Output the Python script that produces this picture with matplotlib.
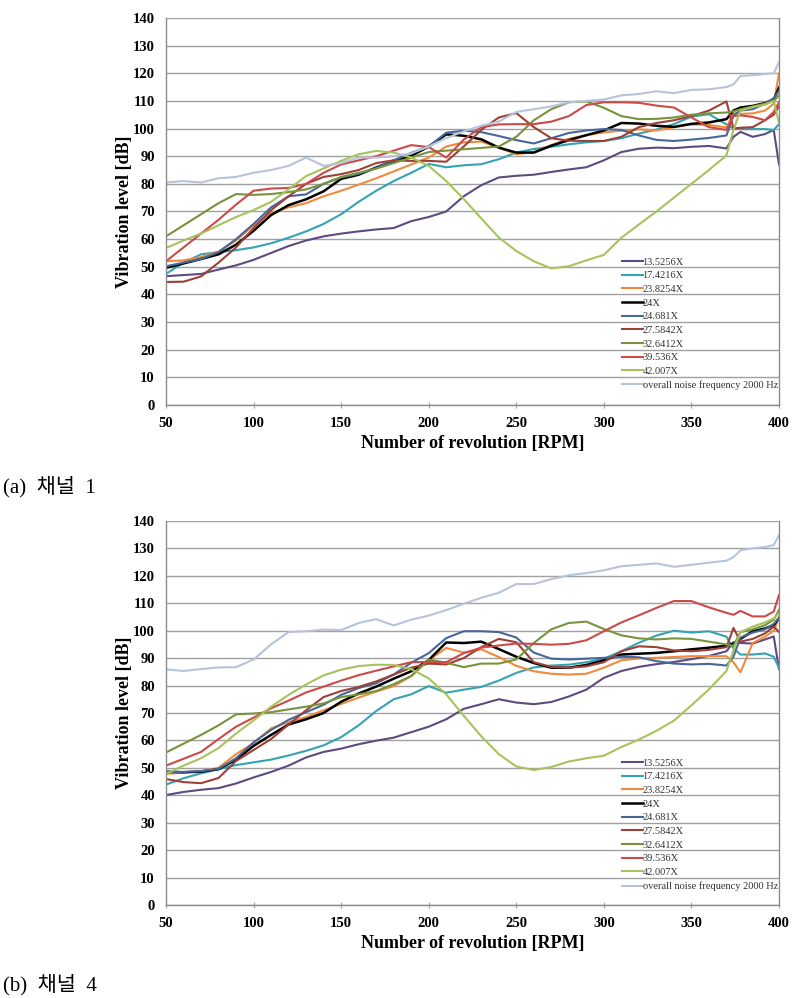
#vibration level vs rpm for two channels, order tracking lines plus overall noise

import numpy as np
import matplotlib.pyplot as plt

rpm = [50, 60, 70, 80, 90, 100, 110, 120, 130, 140, 150, 160, 170, 180, 190, 200, 210, 220,
       230, 240, 250, 260, 270, 280, 290, 300, 310, 320, 330, 340, 350, 360, 370,
       374, 378, 385, 392, 397, 400]

labels = ["13.5256X", "17.4216X", "23.8254X", "24X", "24.681X", "27.5842X",
          "32.6412X", "39.536X", "42.007X", "overall noise frequency 2000 Hz"]

#channel 1
ch1_13 = [46.6, 47, 47.4, 49, 50.5, 52.5, 55, 57.5, 59.5, 61, 62, 62.8, 63.5, 64, 66.5, 68, 70, 75.5,
          79.5, 82.3, 82.9, 83.3, 84.3, 85.2, 86, 88.5, 91.5, 92.7, 93.1, 92.9, 93.4, 93.7, 92.8,
          97, 98.8, 97, 98, 99.5, 87]
ch1_17 = [47.4, 51.5, 54.5, 55.3, 56, 57, 58.5, 60.5, 62.8, 65.5, 69, 73.5, 77.5, 81, 84, 87.2, 86, 86.7,
          87.1, 88.9, 91.3, 92.6, 93.4, 94.3, 95, 95.5, 96.5, 98.2, 99.6, 101.6, 104.3, 105.2, 101.5,
          100, 99.8, 99.8, 99.8, 99.5, 101.6]
ch1_23 = [52, 52.3, 53.5, 55.5, 59.5, 65, 69.5, 71.5, 73, 75.5, 77.5, 79.7, 82, 84.5, 87, 89.5, 93.5, 95,
          95.3, 93.1, 90.7, 91.5, 94, 96.3, 97.6, 98.6, 99.2, 99.7, 99.3, 100.5, 101.5, 101.3, 100.4,
          105.5, 105.3, 105.5, 106.5, 109, 120]
ch1_24 = [49.6, 51.2, 52.8, 54.5, 58, 63, 68.7, 72.3, 74.4, 77.3, 81.8, 83.3, 85.9, 88.3, 90.1, 93.5, 97.9, 97.4,
          96.1, 93.1, 91.3, 91.3, 93.8, 95.8, 97.6, 99.3, 102, 101.8, 101, 100.6, 101.7, 102.2, 103.4,
          106.5, 107.6, 108.2, 109.2, 110.5, 114.8]
ch1_246 = [50.2, 51.5, 52.8, 55.3, 60, 65.5, 71.5, 75.5, 76.2, 80, 82.3, 83.6, 85.7, 88.5, 91.2, 93.5, 98.5, 99.2,
           98.7, 97.3, 95.8, 94.6, 96.5, 98.4, 99.3, 99.8, 99.5, 97.5, 95.9, 95.5, 96, 96.6, 97.5,
           104.8, 106.5, 107, 109, 111, 113.6]
ch1_27 = [44.5, 44.6, 46.5, 51.5, 57, 64, 70.5, 75.5, 80, 82.5, 83.5, 85, 87.5, 88.5, 88.3, 88.3, 88, 93.5,
          99.5, 104, 105.6, 100.5, 96.5, 95.6, 95.5, 95.5, 97, 100.5, 102, 103, 104.5, 106.5, 109.8,
          100, 100.3, 100.5, 103, 105, 108]
ch1_32 = [61, 65, 69, 73, 76.3, 76, 76.3, 77, 78, 80, 82.5, 84, 85.5, 87.5, 89.5, 91.5, 92, 92.5,
          93, 93.5, 97, 103, 107, 109.5, 109.8, 107.5, 104.5, 103.4, 103.5, 104, 105, 105.5, 105.8,
          106.2, 107, 108, 109, 110, 112]
ch1_39 = [52, 57, 62, 67, 72.5, 77.5, 78.3, 78.5, 80, 84, 87, 88.5, 90, 92, 94, 93.3, 89.5, 96,
          100.5, 101.5, 101.6, 101.6, 102.5, 104.5, 108.5, 109.5, 109.5, 109.3, 108.3, 107.6, 104, 100.5, 99.5,
          104.5, 104.8, 104.2, 103, 106, 109.5]
ch1_42 = [56.8, 59.5, 62, 65, 68, 70.5, 73.5, 78, 82.8, 85.6, 88.3, 90.7, 91.9, 91.3, 89.5, 86.5, 81, 74.5,
          67.5, 60.6, 55.7, 52, 49.4, 50.2, 52.3, 54.3, 60.5, 65.3, 70, 75, 80, 85, 90.3,
          99.5, 106.5, 107.8, 108.6, 110, 102]
ch1_all = [80.5, 81, 80.5, 82, 82.5, 84, 85, 86.5, 89.5, 86.5, 87.5, 89.5, 89.5, 90, 91, 93.5, 96.5, 99,
           101, 102.5, 106, 107, 108, 109.5, 110, 110.5, 112, 112.5, 113.5, 112.8, 114, 114.2, 115,
           116, 119, 119.3, 119.7, 120, 124]

#channel 4
ch4_13 = [40.1, 41.2, 42, 42.6, 44.3, 46.5, 48.5, 50.8, 53.8, 55.8, 57, 58.6, 59.9, 61, 63, 65, 67.7, 71.5,
          73.2, 75, 73.8, 73.2, 74, 76, 78.5, 82.8, 85.3, 86.8, 87.8, 88.6, 89.6, 90.8, 92.5,
          95.8, 95.5, 95.3, 96.8, 97.9, 86]
ch4_17 = [43.9, 46.2, 48, 49.5, 51, 52, 53, 54.5, 56.2, 58.2, 61.2, 65.5, 70.7, 75, 76.8, 79.8, 77.4, 78.5,
          79.5, 81.8, 84.6, 86.6, 87.3, 87.6, 88.5, 89.8, 92.5, 95.6, 98.2, 100, 99.3, 99.8, 97.8,
          93.5, 91.3, 91.3, 91.7, 90.5, 86.5]
ch4_23 = [47.8, 48.2, 48.8, 50, 55, 59, 64.4, 66.6, 68.5, 71, 73.3, 75.6, 77.8, 79.8, 83.4, 89.3, 93.7, 92,
          93.2, 90.4, 87.2, 85.2, 84.3, 84, 84.3, 86.5, 89.2, 89.9, 90.1, 90.4, 90.7, 90.7, 90.7,
          88.5, 84.8, 95.5, 97.8, 100, 104.6]
ch4_24 = [48.6, 48.4, 48.6, 49.5, 53, 58, 62, 65.8, 67.7, 70, 74.1, 77.1, 79.6, 82.5, 85.2, 89.3, 95.7, 95.5,
          96, 93.3, 90.5, 88.2, 86.5, 86.5, 87.5, 89.2, 91.3, 91.6, 91.9, 92.5, 93.2, 93.8, 94.5,
          95.3, 97, 99.8, 100.8, 102, 104.6]
ch4_246 = [48.4, 48.5, 48.8, 49.6, 53.5, 59.3, 63.8, 67.5, 70.3, 73, 76.6, 79.1, 80.8, 84, 88.3, 91.8, 97.3, 99.8,
           99.8, 99.5, 97.5, 92, 89.8, 89.5, 89.8, 90.1, 90.5, 90.3, 88.9, 88, 87.7, 87.9, 87.3,
           90.5, 97.5, 99.3, 100.5, 102.5, 104.6]
ch4_27 = [45.9, 44.8, 44.4, 46.3, 52.5, 56.5, 60.5, 65.8, 71, 75.8, 78, 79.5, 81.5, 84, 86.5, 88, 87.7, 90,
          94, 97, 95.8, 88.5, 86.8, 86.5, 87, 88.5, 92.5, 94.3, 94, 92.8, 92.5, 93, 94,
          101, 96, 97, 99, 101.5, 99.5]
ch4_32 = [55.6, 58.8, 62, 65.5, 69.5, 69.8, 70.3, 71.3, 72.3, 73.5, 75.8, 76.8, 78, 80.5, 83.5, 89.5, 88.3, 86.7,
          88, 88, 89.5, 95.5, 100.5, 102.8, 103.3, 100.6, 98.3, 97.2, 96.8, 97.2, 97, 96, 95,
          94.5, 99.5, 100.5, 102, 104, 107.6]
ch4_39 = [50.8, 53.3, 55.8, 60.5, 65, 68.3, 71.7, 74.5, 77.5, 79.6, 81.8, 83.8, 85.4, 87, 88.5, 88.6, 88.5, 91.8,
          93.8, 94.6, 95.3, 95.2, 94.9, 95.2, 96.5, 99.8, 103, 105.6, 108.3, 110.8, 110.8, 108.5, 106.5,
          105.8, 107.2, 105.2, 105.2, 107, 113]
ch4_42 = [47.8, 50.8, 53.5, 57.2, 62.5, 67.3, 72.3, 76.6, 80.4, 83.7, 85.8, 87.1, 87.6, 87.5, 86, 82.6, 76.8, 69,
          61.5, 55, 50.5, 49.2, 50.3, 52.3, 53.5, 54.4, 57.6, 60.3, 63.5, 67.2, 72.8, 78.6, 85.3,
          92.8, 99.5, 101.5, 103, 104.5, 106.4]
ch4_all = [85.9, 85.3, 86, 86.6, 86.7, 89.5, 95, 99.5, 99.8, 100.4, 100.2, 102.8, 104.2, 101.9, 104, 105.5, 107.5, 109.8,
           112, 113.8, 117, 117, 118.8, 120.2, 121, 122, 123.5, 124, 124.5, 123.3, 124, 124.8, 125.5,
           126.8, 129.3, 130, 130.5, 131.2, 134.8]

colors = ["#5e4a80", "#34a3b3", "#f08a3c", "#000000", "#46679a", "#9c4038",
          "#77933c", "#cc4a47", "#a6c35c", "#b7c3dc"]

ch1 = [ch1_13, ch1_17, ch1_23, ch1_24, ch1_246, ch1_27, ch1_32, ch1_39, ch1_42, ch1_all]
ch4 = [ch4_13, ch4_17, ch4_23, ch4_24, ch4_246, ch4_27, ch4_32, ch4_39, ch4_42, ch4_all]

serif = "Liberation Serif"


def draw_panel(ax, data):
    for vals, lab, c in zip(data, labels, colors):
        lw = 1.8 if c == "#000000" else 1.5
        ax.plot(rpm, vals, color=c, lw=lw, label=lab)

    ax.set_xlim(50, 400)
    ax.set_ylim(0, 140)
    ax.set_xticks(np.arange(50, 401, 50))
    ax.set_yticks(np.arange(0, 141, 10))
    ax.yaxis.grid(True, color="#a0a0a0", lw=1.0)
    ax.set_axisbelow(True)
    for s in ax.spines.values():
        s.set_color("#8c8c8c")
        s.set_linewidth(1.0)
    ax.spines["top"].set_visible(False)
    ax.tick_params(axis="y", length=0, pad=8)
    ax.tick_params(axis="x", direction="inout", length=5, color="#a0a0a0", pad=6)
    for t in ax.get_xticklabels() + ax.get_yticklabels():
        t.set_fontfamily(serif)
        t.set_fontweight("bold")
        t.set_fontsize(10.5)

    ax.set_xlabel("Number of revolution [RPM]", fontfamily=serif, fontweight="bold",
                  fontsize=13, labelpad=4)
    ax.set_ylabel("Vibration level [dB]", fontfamily=serif, fontweight="bold",
                  fontsize=13, labelpad=0)

    leg = ax.legend(loc="upper left", bbox_to_anchor=(0.735, 0.395), frameon=False,
                    handlelength=2.0, handletextpad=0.0, labelspacing=0.42, borderpad=0,
                    prop={"family": serif, "size": 7.5})
    for t in leg.get_texts():
        t.set_color("#333333")


fig = plt.figure(figsize=(8.07, 9.98), dpi=100)

ax1 = fig.add_axes([0.2057, 0.5942, 0.7596, 0.3878])
draw_panel(ax1, ch1)

ax2 = fig.add_axes([0.2057, 0.0932, 0.7596, 0.3848])
draw_panel(ax2, ch4)

cap_font = [serif, "Noto Sans CJK KR"]
fig.text(0.004, 1 - 487 / 998, "(a)  채널  1", family=cap_font, fontsize=15,
         fontweight="light", va="center")
fig.text(0.004, 1 - 985 / 998, "(b)  채널  4", family=cap_font, fontsize=15,
         fontweight="light", va="center")

fig.savefig("out.png", dpi=100)
